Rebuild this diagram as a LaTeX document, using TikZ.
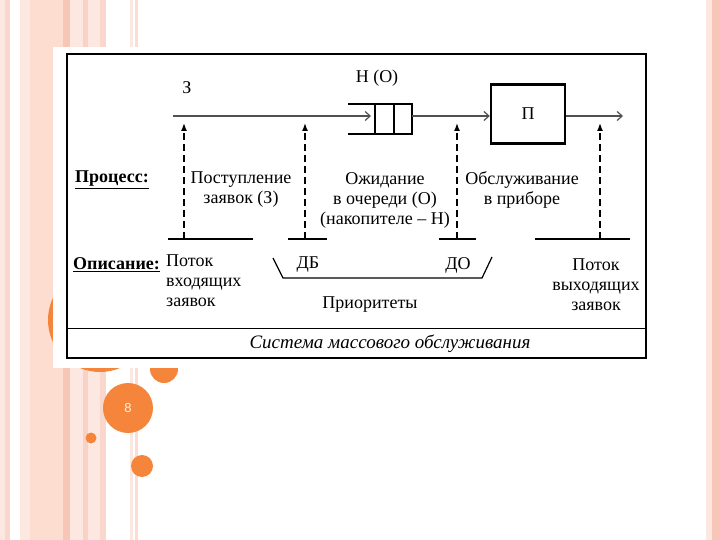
\documentclass[tikz,border=0pt]{standalone}
\usepackage{fontspec}
\setmainfont{Liberation Serif}
\setsansfont{Liberation Sans}
\usetikzlibrary{arrows.meta}
\definecolor{orng}{HTML}{F5853A}
\definecolor{pk1}{HTML}{FDDDD0}
\definecolor{pk2}{HTML}{F8C6B6}
\definecolor{pk3}{HTML}{FCE8E0}
\definecolor{grayline}{HTML}{505050}
\tikzset{
  txt/.style={font=\fontsize{18}{20}\selectfont, align=center, inner sep=0pt},
  hdr/.style={font=\fontsize{18}{20}\selectfont\bfseries, inner sep=0pt},
  flow/.style={draw=grayline, line width=1.2pt, -{Straight Barb[length=5pt,width=9pt,line width=1.2pt]}},
  dasharrow/.style={draw=black, line width=1.4pt, dash pattern=on 7pt off 4pt, -{Latex[length=8pt,width=6pt]}},
  base/.style={draw=black, line width=1.3pt},
  thickbox/.style={draw=black, line width=2.4pt},
}
\begin{document}
\begin{tikzpicture}[x=1pt,y=-1pt]
\useasboundingbox (0,0) rectangle (720,540);
% background stripes
\fill[pk3] (0,0) rectangle (5,540);
\fill[pk2!70] (5,0) rectangle (10,540);
\fill[pk3] (20,0) rectangle (30,540);
\fill[pk1] (30,0) rectangle (63,540);
\fill[pk2] (63,0) rectangle (70,540);
\fill[pk3] (70,0) rectangle (83,540);
\fill[pk2!80] (83,0) rectangle (88,540);
\fill[pk3] (88,0) rectangle (100,540);
\fill[pk2!70] (100,0) rectangle (106,540);
\fill[pk3] (130,0) rectangle (133,540);
\fill[pk2!60] (135,0) rectangle (138,540);
\fill[pk3] (706,0) rectangle (712,540);
\fill[pk2] (712,0) rectangle (720,540);
% circles
\fill[orng] (100,320) circle (52);
\fill[orng] (164,369) circle (14);
\fill[orng] (128,408) circle (25);
\fill[orng] (91,438) circle (5.5);
\fill[orng] (142,466) circle (11);
\node[font=\sffamily\fontsize{13}{13}\selectfont, text=white!90!orange] (num) at (128,408) {8};
% white panel
\fill[white] (53,47) rectangle (655,368);
% frame
\draw[line width=1.5pt] (67,54) rectangle (646,358);
\draw[line width=1pt] (67,328) -- (646,328);
\node[font=\fontsize{19}{20}\selectfont\itshape, inner sep=0pt] (title) at (390,344) {Система массового обслуживания};

% main flow
\coordinate (start) at (173,116);
\coordinate (qin) at (371,116);
\draw[flow] (start) -- (qin);
% queue
\draw[thickbox] (348,104) -- (412,104) -- (412,134) -- (348,134);
\draw[line width=1.1pt] (375,104) -- (375,134);
\draw[line width=1.1pt] (394,104) -- (394,134);
\coordinate (qout) at (412,116);
% server
\node[thickbox, minimum width=74pt, minimum height=59pt, inner sep=0pt, font=\fontsize{18}{20}\selectfont] (srv) at (528,114) {П};
\draw[flow] (qout) -- (srv.west |- qout);
\coordinate (endp) at (623,116);
\draw[flow] (srv.east |- endp) -- (endp);

\node[txt] (lz) at (187,88) {З};
\node[txt] (lho) at (377,78) {Н (О)};

% bases
\coordinate (b1l) at (168,239); \coordinate (b1r) at (253,239);
\coordinate (b2l) at (288,239); \coordinate (b2r) at (327,239);
\coordinate (b3l) at (439,239); \coordinate (b3r) at (476,239);
\coordinate (b4l) at (535,239); \coordinate (b4r) at (630,239);
\draw[base] (b1l) -- (b1r);
\draw[base] (b2l) -- (b2r);
\draw[base] (b3l) -- (b3r);
\draw[base] (b4l) -- (b4r);
% dashed arrows
\coordinate (d1b) at (184,239); \coordinate (d1t) at (184,123);
\coordinate (d2b) at (305,239); \coordinate (d2t) at (305,123);
\coordinate (d3b) at (457,239); \coordinate (d3t) at (457,123);
\coordinate (d4b) at (600,239); \coordinate (d4t) at (600,123);
\draw[dasharrow] (d1b) -- (d1t);
\draw[dasharrow] (d2b) -- (d2t);
\draw[dasharrow] (d3b) -- (d3t);
\draw[dasharrow] (d4b) -- (d4t);

% process labels
\node[hdr, anchor=west] (proc) at (75,180) {\underline{Процесс:}};
\node[txt] (p1) at (241,190) {Поступление\\заявок (З)};
\node[txt] (p2) at (385,200) {Ожидание\\в очереди (О)\\(накопителе – Н)};
\node[txt] (p3) at (522,190) {Обслуживание\\в приборе};

% description
\node[hdr, anchor=west] (desc) at (73,265) {\underline{Описание:}};
\node[txt, align=left, anchor=north west] (din) at (166,255) {Поток\\входящих\\заявок};
\node[txt] (dout) at (596,285) {Поток\\выходящих\\заявок};

% priorities bracket
\coordinate (pr1) at (273,258); \coordinate (pr2) at (283,278);
\coordinate (pr3) at (482,278); \coordinate (pr4) at (492,257);
\draw[line width=1.2pt] (pr1) -- (pr2) -- (pr3) -- (pr4);
\node[txt] (db) at (308,265) {ДБ};
\node[txt] (do) at (458,265) {ДО};
\node[txt] (prio) at (370,305) {Приоритеты};
\end{tikzpicture}
\end{document}
